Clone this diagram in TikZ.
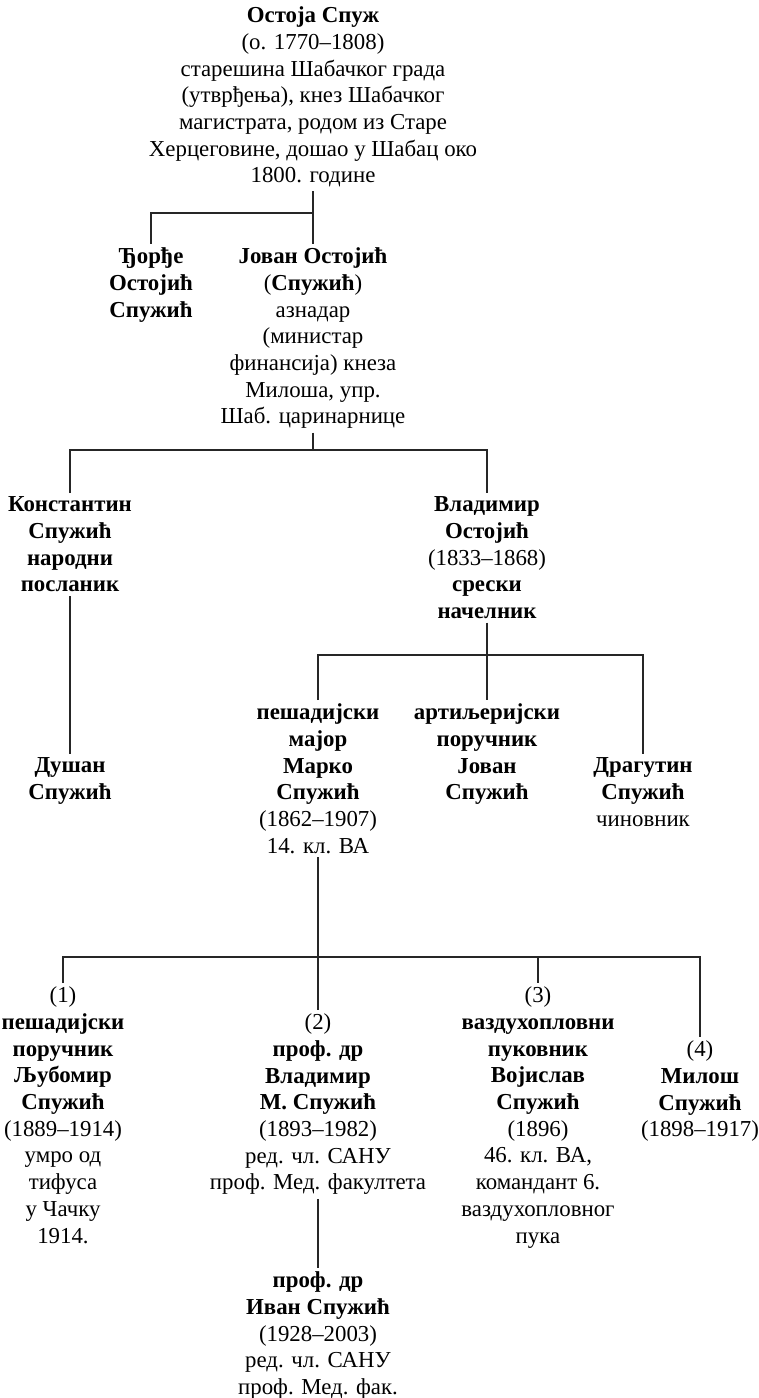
\documentclass[tikz,border=0pt]{standalone}
\usepackage{fontspec}
\setmainfont{Liberation Serif}
\usetikzlibrary{positioning}
\tikzset{
  pers/.style={align=center, anchor=north, inner sep=2pt, font=\fontsize{13}{15.2}\selectfont},
  lnk/.style={draw=black!85, line width=0.7pt},
}
\begin{document}
\begin{tikzpicture}[x=0.02cm,y=-0.02cm]
\useasboundingbox (0,0) rectangle (759,1398);
% first generations
\node[pers] (ostoja) at (313,3) {\textbf{Остоја Спуж}\\(о. 1770–1808)\\старешина Шабачког града\\(утврђења), кнез Шабачког\\магистрата, родом из Старе\\Херцеговине, дошао у Шабац око\\1800. године};
\node[pers] (djordje) at (151,244) {\textbf{Ђорђе}\\\textbf{Остојић}\\\textbf{Спужић}};
\node[pers] (jovan) at (313,244) {\textbf{Јован Остојић}\\(\textbf{Спужић})\\азнадар\\(министар\\финансија) кнеза\\Милоша, упр.\\Шаб. царинарнице};
\node[pers] (konst) at (70,493) {\textbf{Константин}\\\textbf{Спужић}\\\textbf{народни}\\\textbf{посланик}};
\node[pers] (vlad) at (487,493) {\textbf{Владимир}\\\textbf{Остојић}\\(1833–1868)\\\textbf{срески}\\\textbf{начелник}};
\node[pers] (dusan) at (70,754) {\textbf{Душан}\\\textbf{Спужић}};
\node[pers] (marko) at (318,700) {\textbf{пешадијски}\\\textbf{мајор}\\\textbf{Марко}\\\textbf{Спужић}\\(1862–1907)\\14. кл. ВА};
\node[pers] (jovanb) at (487,700) {\textbf{артиљеријски}\\\textbf{поручник}\\\textbf{Јован}\\\textbf{Спужић}};
\node[pers] (drag) at (643,754) {\textbf{Драгутин}\\\textbf{Спужић}\\чиновник};
% Marko's sons
\node[pers] (ljub) at (63,983) {(1)\\\textbf{пешадијски}\\\textbf{поручник}\\\textbf{Љубомир}\\\textbf{Спужић}\\(1889–1914)\\умро од\\тифуса\\у Чачку\\1914.};
\node[pers] (vladm) at (318,1010) {(2)\\\textbf{проф. др}\\\textbf{Владимир}\\\textbf{М. Спужић}\\(1893–1982)\\ред. чл. САНУ\\проф. Мед. факултета};
\node[pers] (vojis) at (538,983) {(3)\\\textbf{ваздухопловни}\\\textbf{пуковник}\\\textbf{Војислав}\\\textbf{Спужић}\\(1896)\\46. кл. ВА,\\командант 6.\\ваздухопловног\\пука};
\node[pers] (milos) at (700,1037) {(4)\\\textbf{Милош}\\\textbf{Спужић}\\(1898–1917)};
\node[pers] (ivan) at (318,1268) {\textbf{проф. др}\\\textbf{Иван Спужић}\\(1928–2003)\\ред. чл. САНУ\\проф. Мед. фак.};
% bars
\coordinate (b1) at (313,213);
\coordinate (b2) at (313,450);
\coordinate (b3) at (487,655);
\coordinate (b4) at (318,957);
\draw[lnk] (ostoja) -- (jovan);
\draw[lnk] (b1) -| (djordje);
\draw[lnk] (jovan) -- (b2);
\draw[lnk] (konst) |- (b2) -| (vlad);
\draw[lnk] (konst) -- (dusan);
\draw[lnk] (vlad) -- (jovanb);
\draw[lnk] (marko) |- (b3) -| (drag);
\draw[lnk] (marko) -- (vladm);
\draw[lnk] (ljub) |- (b4) -| (milos);
\draw[lnk] (b4) -| (vojis);
\draw[lnk] (vladm) -- (ivan);
\end{tikzpicture}
\end{document}
